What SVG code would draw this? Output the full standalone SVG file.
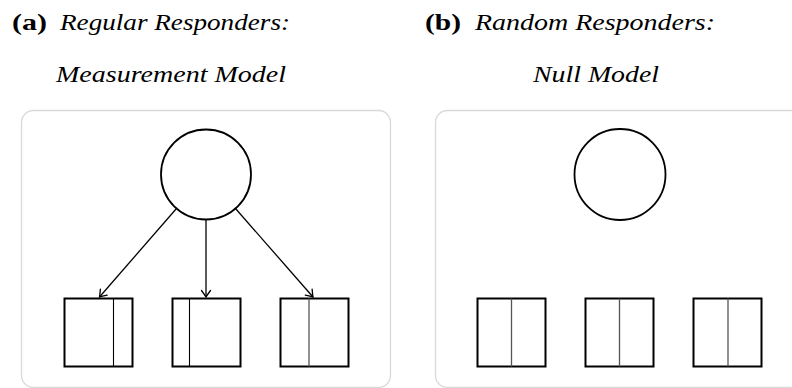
<svg xmlns="http://www.w3.org/2000/svg" width="792" height="388" viewBox="0 0 792 388">
  <style>
    .panel { fill: #ffffff; stroke: #d9d9d9; stroke-width: 1.3; }
    .latent { fill: #ffffff; stroke: #000000; stroke-width: 1.8; }
    .item { fill: #ffffff; stroke: #000000; stroke-width: 2; }
    .split { stroke: #000000; stroke-width: 1.1; }
    .split-mid { stroke: #555555; stroke-width: 1.3; }
    .edge { stroke: #000000; stroke-width: 1.3; fill: none; marker-end: url(#head); }
    .cap { font-family: "Liberation Serif", "Times New Roman", serif; font-size: 23.5px; fill: #000000; }
    .tag { font-weight: bold; }
    .it { font-style: italic; }
  </style>
  <defs>
    <marker id="head" markerUnits="userSpaceOnUse" markerWidth="14" markerHeight="14" refX="0" refY="0" viewBox="-8 -7 10 14" orient="auto">
      <path d="M -6.5 -4.5 Q -2 -1.2 0 0 Q -2 1.2 -6.5 4.5" fill="none" stroke="#000000" stroke-width="1.3" stroke-linecap="round"/>
    </marker>
  </defs>
  <rect width="792" height="388" fill="#ffffff"/>

  <!-- captions -->
  <g id="caption-a">
    <text class="cap" x="12" y="30"><tspan class="tag" textLength="35" lengthAdjust="spacingAndGlyphs">(a)</tspan><tspan class="it" x="60" textLength="230" lengthAdjust="spacingAndGlyphs">Regular Responders:</tspan></text>
    <text class="cap it" x="56" y="82" textLength="230" lengthAdjust="spacingAndGlyphs">Measurement Model</text>
  </g>
  <g id="caption-b">
    <text class="cap" x="425" y="30"><tspan class="tag" textLength="36" lengthAdjust="spacingAndGlyphs">(b)</tspan><tspan class="it" x="475" textLength="240" lengthAdjust="spacingAndGlyphs">Random Responders:</tspan></text>
    <text class="cap it" x="533" y="82" textLength="126" lengthAdjust="spacingAndGlyphs">Null Model</text>
  </g>

  <!-- panel frames -->
  <rect id="panel-a" class="panel" x="21.5" y="110.5" width="369" height="277" rx="12"/>
  <rect id="panel-b" class="panel" x="435.5" y="110.5" width="369" height="277" rx="12"/>

  <!-- measurement model: latent factor and indicators -->
  <g id="factor-a"><circle class="latent" cx="206" cy="174.5" r="45"/></g>
  <g id="item-a1">
    <rect class="item" x="64.5" y="298.5" width="68" height="68"/>
    <line class="split" x1="113.5" y1="298.5" x2="113.5" y2="366.5"/>
  </g>
  <g id="item-a2">
    <rect class="item" x="172.5" y="298.5" width="68" height="68"/>
    <line class="split" x1="189.5" y1="298.5" x2="189.5" y2="366.5"/>
  </g>
  <g id="item-a3">
    <rect class="item" x="280.5" y="298.5" width="68" height="68"/>
    <line class="split-mid" x1="309" y1="298.5" x2="309" y2="366.5"/>
  </g>

  <!-- loadings -->
  <g id="connectors">
    <line class="edge" x1="176.5" y1="208.5" x2="99.5" y2="297"/>
    <line class="edge" x1="206" y1="219.5" x2="206" y2="297"/>
    <line class="edge" x1="235.5" y1="208.5" x2="313" y2="297"/>
  </g>

  <!-- null model: unconnected factor and indicators -->
  <g id="factor-b"><circle class="latent" cx="620" cy="174.5" r="45.5"/></g>
  <g id="item-b1">
    <rect class="item" x="477.5" y="298.5" width="68" height="68"/>
    <line class="split-mid" x1="511.5" y1="298.5" x2="511.5" y2="366.5"/>
  </g>
  <g id="item-b2">
    <rect class="item" x="585.5" y="298.5" width="68" height="68"/>
    <line class="split-mid" x1="619.5" y1="298.5" x2="619.5" y2="366.5"/>
  </g>
  <g id="item-b3">
    <rect class="item" x="693.5" y="298.5" width="68" height="68"/>
    <line class="split-mid" x1="728" y1="298.5" x2="728" y2="366.5"/>
  </g>
</svg>
